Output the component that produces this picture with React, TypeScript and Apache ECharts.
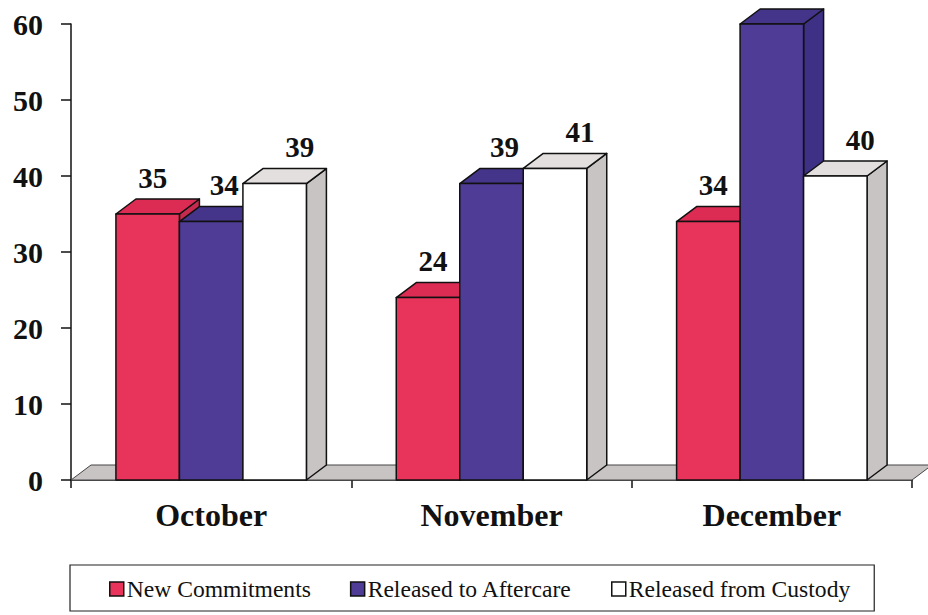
import React, { useEffect, useRef } from "react";
import * as echarts from "echarts";

const categories = ["October", "November", "December"];
const seriesNames = ["New Commitments", "Released to Aftercare", "Released from Custody"];
const newCommitments = [35, 24, 34];
const releasedToAftercare = [34, 39, 60];
const releasedFromCustody = [39, 41, 40];
const yTicks = { min: 0, max: 60, interval: 10 };

const FONT = "'Liberation Serif', 'Times New Roman', serif";
const faceColors = [
  { front: "#E8345A", top: "#DC2C54", side: "#C72A4E" },
  { front: "#4E3C96", top: "#44348A", side: "#3E3084" },
  { front: "#FFFFFF", top: "#E3DFDF", side: "#C8C4C4" },
];
const labelOffsets = [-5, 3, 15];
const DX = 20;
const DY = -15;
const BAR_FRAC = 0.2265;

function barGeom(k: number, api: any) {
  const cat = api.value(0);
  const val = api.value(1);
  const base = api.coord([cat, 0]);
  const top = api.coord([cat, val]);
  const catW = api.size([1, 0])[0];
  const bw = catW * BAR_FRAC;
  const x0 = base[0] + (k - 1.5) * bw;
  return { val, bw, x0, by: base[1], ty: top[1] };
}

function makeBarRender(k: number) {
  return (params: any, api: any) => {
    const { bw, x0, by, ty } = barGeom(k, api);
    const c = faceColors[k];
    const stroke = { stroke: "#111", lineWidth: 1.5, lineJoin: "round" };
    return {
      type: "group",
      children: [
        {
          type: "polygon",
          shape: { points: [[x0 + bw, ty], [x0 + bw + DX, ty + DY], [x0 + bw + DX, by + DY], [x0 + bw, by]] },
          style: { fill: c.side, ...stroke },
        },
        {
          type: "polygon",
          shape: { points: [[x0, ty], [x0 + bw, ty], [x0 + bw + DX, ty + DY], [x0 + DX, ty + DY]] },
          style: { fill: c.top, ...stroke },
        },
        {
          type: "rect",
          shape: { x: x0, y: ty, width: bw, height: by - ty },
          style: { fill: c.front, ...stroke },
        },
      ],
    };
  };
}

function makeLabelRender(k: number) {
  return (params: any, api: any) => {
    const { val, bw, x0, ty } = barGeom(k, api);
    if (val >= yTicks.max) return null;
    return {
      type: "text",
      style: {
        x: x0 + bw / 2 + DX / 2 + labelOffsets[k],
        y: ty + DY - 7,
        text: String(val),
        fill: "#111",
        font: `bold 29px ${FONT}`,
        align: "center",
        verticalAlign: "bottom",
      },
    };
  };
}

function floorRender(params: any, api: any) {
  const cs = params.coordSys;
  const y = cs.y + cs.height;
  const x = cs.x;
  const w = cs.width;
  return {
    type: "polygon",
    shape: { points: [[x, y], [x + w, y], [x + w + DX, y + DY], [x + DX, y + DY]] },
    style: { fill: "#C8C4C4", stroke: "#444", lineWidth: 1 },
  };
}

export default function App() {
  const ref = useRef<HTMLDivElement>(null);
  useEffect(() => {
    if (!ref.current) return;
    const chart = echarts.init(ref.current, null, { renderer: "svg" });
    const values = [newCommitments, releasedToAftercare, releasedFromCustody];
    chart.setOption({
      animation: false,
      backgroundColor: "#ffffff",
      grid: { left: 71, right: 16, top: 24, bottom: 135, containLabel: false },
      xAxis: {
        type: "category",
        data: categories,
        boundaryGap: true,
        axisLine: { show: true, lineStyle: { color: "#111", width: 1.5 } },
        axisTick: { show: true, length: 8, lineStyle: { color: "#111", width: 1.5 } },
        axisLabel: { color: "#111", fontFamily: FONT, fontWeight: "bold", fontSize: 32, margin: 19 },
        splitLine: { show: false },
      },
      yAxis: {
        type: "value",
        min: yTicks.min,
        max: yTicks.max,
        interval: yTicks.interval,
        axisLine: { show: true, lineStyle: { color: "#111", width: 1.5 } },
        axisTick: { show: true, length: 10, lineStyle: { color: "#111", width: 1.5 } },
        axisLabel: { color: "#111", fontFamily: FONT, fontWeight: "bold", fontSize: 30, margin: 28 },
        splitLine: { show: false },
      },
      legend: {
        left: 70,
        top: 565,
        orient: "horizontal",
        padding: [12, 24, 10, 39],
        itemGap: 39,
        itemWidth: 14,
        itemHeight: 14,
        borderColor: "#222",
        borderWidth: 1.2,
        icon: "rect",
        itemStyle: { borderColor: "#111", borderWidth: 1.5 },
        textStyle: { color: "#111", fontFamily: FONT, fontSize: 23.6, padding: [0, 0, 0, -2] },
        data: seriesNames,
      },
      series: [
        {
          type: "custom",
          name: "floor",
          data: [[0, 0]],
          renderItem: floorRender,
          silent: true,
          z: 1,
        },
        ...seriesNames.map((name, k) => ({
          type: "custom",
          name,
          data: values[k].map((v, i) => [i, v]),
          encode: { x: 0, y: 1 },
          renderItem: makeBarRender(k),
          itemStyle: { color: faceColors[k].front },
          z: 2 + k,
        })),
        ...seriesNames.map((name, k) => ({
          type: "custom",
          name: name + " labels",
          data: values[k].map((v, i) => [i, v]),
          encode: { x: 0, y: 1 },
          renderItem: makeLabelRender(k),
          silent: true,
          z: 10,
        })),
      ],
    });
    return () => chart.dispose();
  }, []);
  return (
    <div
      ref={ref}
      style={{ position: "fixed", left: 0, top: 0, width: 928, height: 615, background: "#fff" }}
    />
  );
}
